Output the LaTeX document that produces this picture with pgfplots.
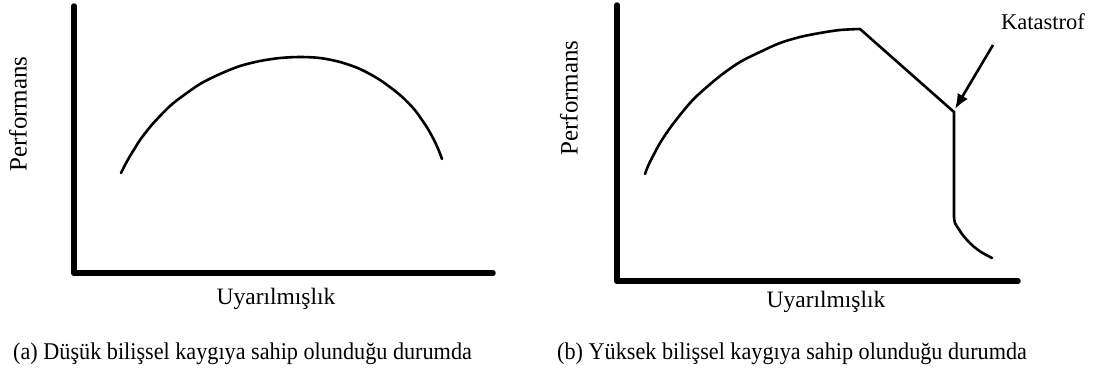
\documentclass[border=0pt]{standalone}
\usepackage{pgfplots}
\pgfplotsset{compat=1.18}
\usetikzlibrary{arrows.meta}
\usepackage{fontspec}
\setmainfont{Liberation Serif}
\pgfplotsset{
  panel/.style={
    scale only axis,
    axis x line=bottom, axis y line=left,
    axis line style={-, line width=5.5pt, line cap=round},
    xtick=\empty, ytick=\empty,
    clip=false,
    anchor=south west,
  },
  curve/.style={smooth, tension=0.5, line width=2.6pt, black, line join=round, line cap=round},
}
\begin{document}
\begin{tikzpicture}[x=1pt,y=1pt]
\path[use as bounding box] (0,0) rectangle (1101,-367);
% Left panel
\begin{axis}[panel, at={(74pt,-273pt)}, width=419pt, height=267pt,
  xmin=0, xmax=419, ymin=0, ymax=267]
\addplot[curve] coordinates {
  (47,100) (51,108) (56,117) (61,125) (66,133) (76,146) (86,157) (96,167)
  (106,175) (126,189) (146,199) (166,207)
  (186,212) (206,215) (226,216) (246,215) (266,211) (286,204) (306,193)
  (326,178) (340,164) (348,153) (354,144) (361,131) (365,122) (368,114)};
\end{axis}
% Right panel
\begin{axis}[panel, at={(617pt,-281pt)}, width=401pt, height=276pt,
  xmin=0, xmax=401, ymin=0, ymax=276]
\addplot[curve] coordinates {
  (28,107) (31,115) (35,123) (43,138) (53,153) (63,166) (73,178) (83,188)
  (103,205) (123,219) (143,229)
  (163,238) (183,244) (203,248) (223,251) (243,252)};
\addplot[sharp plot, line width=2.6pt, black, line join=miter] coordinates {
  (243,252) (337,169) (337,64)};
\addplot[curve] coordinates {
  (337,64) (338,58) (341,53) (345,47) (350,41) (356,35) (364,29) (375,23)};
\draw[line width=2.6pt, -{Latex[length=15pt,width=12pt]}] (axis cs:376,236) -- (axis cs:338,172);
\end{axis}
% Texts
\node[font=\fontsize{25}{28}\selectfont, rotate=90] at (18,-114) {Performans};
\node[font=\fontsize{25}{28}\selectfont, rotate=90] at (569,-98) {Performans};
\node[font=\fontsize{23.5}{26}\selectfont, anchor=base, inner sep=0pt] at (276,-304) {Uyarılmışlık};
\node[font=\fontsize{23.5}{26}\selectfont, anchor=base, inner sep=0pt] at (826,-307) {Uyarılmışlık};
\node[font=\fontsize{22.5}{26}\selectfont] at (1043,-22) {Katastrof};
\node[font=\fontsize{24}{26}\selectfont, anchor=base west, inner sep=0pt] at (13,-359) {\scalebox{0.925}[1]{(a) Düşük bilişsel kaygıya sahip olunduğu durumda}};
\node[font=\fontsize{24}{26}\selectfont, anchor=base west, inner sep=0pt] at (557,-359) {\scalebox{0.925}[1]{(b) Yüksek bilişsel kaygıya sahip olunduğu durumda}};
\end{tikzpicture}
\end{document}
